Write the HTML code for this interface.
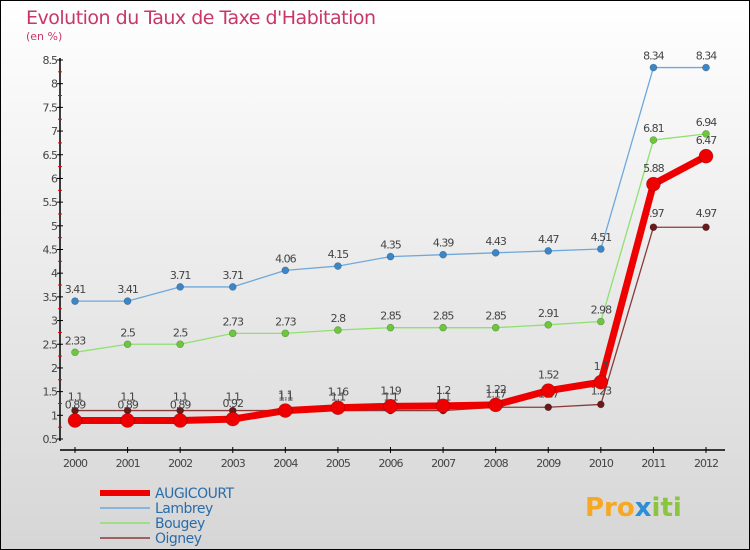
<!DOCTYPE html>
<html><head><meta charset="utf-8"><style>
body{margin:0}
#c{width:750px;height:550px;position:relative;overflow:hidden;font-family:"DejaVu Sans","Liberation Sans",sans-serif}
svg text{font-family:"DejaVu Sans","Liberation Sans",sans-serif}
</style></head><body>
<div id="c">
<svg id="s" width="750" height="550" xmlns="http://www.w3.org/2000/svg">
<defs><linearGradient id="bg" x1="0" y1="0" x2="0" y2="1"><stop offset="0" stop-color="#ffffff"/><stop offset="1" stop-color="#d6d6d6"/></linearGradient></defs>
<rect x="0.5" y="0.5" width="749" height="549" fill="url(#bg)" stroke="#000"/>
<text x="26" y="24" font-size="19" fill="#c8366a" style="letter-spacing:-0.5px">Evolution du Taux de Taxe d'Habitation</text>
<text x="26" y="40" font-size="11" fill="#c8366a">(en %)</text>
<g id="axes"></g><g id="series"></g><g id="legend"></g>
<text x="585" y="516" font-size="26" font-weight="bold" fill="#f7a823">Pro<tspan fill="#2b8ed6">x</tspan><tspan fill="#8bc53f">iti</tspan></text>
</svg></div>
<script>
const years=[2000,2001,2002,2003,2004,2005,2006,2007,2008,2009,2010,2011,2012];
const yTicks=[0.5,1,1.5,2,2.5,3,3.5,4,4.5,5,5.5,6,6.5,7,7.5,8,8.5];
const augicourt=[0.89,0.89,0.89,0.92,1.1,1.16,1.19,1.2,1.22,1.52,1.7,5.88,6.47];
const lambrey=[3.41,3.41,3.71,3.71,4.06,4.15,4.35,4.39,4.43,4.47,4.51,8.34,8.34];
const bougey=[2.33,2.5,2.5,2.73,2.73,2.8,2.85,2.85,2.85,2.91,2.98,6.81,6.94];
const oigney=[1.1,1.1,1.1,1.1,1.1,1.1,1.1,1.1,1.17,1.17,1.23,4.97,4.97];
const NS="http://www.w3.org/2000/svg";
const X=i=>75+i*(706-75)/12;
const Y=v=>439-(v-0.5)*(379/8);
function mk(t,a,p){const e=document.createElementNS(NS,t);for(const k in a)e.setAttribute(k,a[k]);p.appendChild(e);return e;}
const ax=document.getElementById('axes');
let l=mk('line',{x1:60,y1:58,x2:60,y2:441,stroke:'#000','stroke-width':1.5},ax);


l=mk('line',{x1:60,y1:450,x2:725,y2:450,stroke:'#000','stroke-width':1.5},ax);


yTicks.forEach((v,i)=>{
  mk('line',{x1:57,x2:63,y1:Y(v),y2:Y(v),stroke:'#000'},ax);
  if(i<yTicks.length-1) mk('line',{x1:58,x2:62,y1:Y(v+0.25),y2:Y(v+0.25),stroke:'#e00'},ax);
  const t=mk('text',{x:57,y:Y(v)+4,'font-size':11,fill:'#444','text-anchor':'end','letter-spacing':'-1'},ax);
  t.textContent=v;
  
  
});
years.forEach((y,i)=>{
  mk('line',{x1:X(i),x2:X(i),y1:447,y2:453,stroke:'#000'},ax);
  const t=mk('text',{x:X(i),y:467,'font-size':11,fill:'#444','text-anchor':'middle','letter-spacing':'-1'},ax);
  t.textContent=y;
  
  
});
const sg=document.getElementById('series');
function draw(data,color,dot,w,r,name,lblOff){
  const g=mk('g',{},sg);
  
  
  const p=mk('polyline',{points:data.map((v,i)=>X(i)+','+Y(v)).join(' '),fill:'none',stroke:color,'stroke-width':w,'stroke-linejoin':'round'},g);
  
  
  data.forEach((v,i)=>{
    const c=mk('circle',{cx:X(i),cy:Y(v),r:r,fill:dot,stroke:'rgba(0,0,0,0.3)','stroke-width':0.6},g);
    
    
    const t=mk('text',{x:X(i),y:Y(v)-lblOff,'font-size':11,fill:'#444','text-anchor':'middle','letter-spacing':'-1'},g);
    t.textContent=String(v).replace(/^0\./,'0.');
    
    
  });
}
draw(lambrey,'#6fa8dc','#3a86c8',1.3,3.5,'lambrey',8);
draw(bougey,'#90e070','#6cc83a',1.3,3.5,'bougey',8);
draw(oigney,'#8b3a3a','#6a1a1a',1.3,3.5,'oigney',10);
draw(augicourt,'#ee0000','#ee0000',7,7,'augicourt',12);
const lg=document.getElementById('legend');
[['AUGICOURT','#ee0000',6],['Lambrey','#6fa8dc',1.5],['Bougey','#90e070',1.5],['Oigney','#8b3a3a',1.5]].forEach((d,i)=>{
  const y=493+i*15;
  const g=mk('g',{},lg);
  
  
  mk('line',{x1:100,x2:150,y1:y,y2:y,stroke:d[1],'stroke-width':d[2]},g);
  const t=mk('text',{x:155,y:y+5,'font-size':14,fill:'#2b6ca8','letter-spacing':'-0.5'},g);
  t.textContent=d[0];
});
</script>
</body></html>
